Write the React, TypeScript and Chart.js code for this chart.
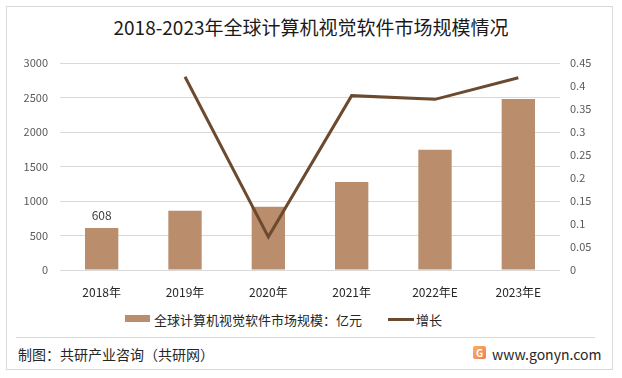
import React, { useEffect, useRef } from "react";
import { Chart, registerables } from "chart.js";

Chart.register(...registerables);

const categories = ["2018年", "2019年", "2020年", "2021年", "2022年E", "2023年E"];
const marketSize = [608, 858, 915, 1275, 1743, 2478];
const growth = [null, 0.42, 0.072, 0.379, 0.371, 0.418];
const leftTicks = [0, 3000, 500];
const rightTicks = [0, 0.45, 0.05];

const FONT = '"Noto Sans CJK SC", "Noto Sans", sans-serif';
const BAR_COLOR = "#BA8D6C";
const LINE_COLOR = "#6B4A2F";

const labelPlugin = {
  id: "firstBarLabel",
  afterDatasetsDraw(chart: any) {
    const meta = chart.getDatasetMeta(0);
    const el = meta.data[0];
    if (!el) return;
    const ctx = chart.ctx;
    ctx.save();
    ctx.font = `12px ${FONT}`;
    ctx.fillStyle = "#404040";
    ctx.textAlign = "center";
    ctx.textBaseline = "middle";
    ctx.fillText(String(marketSize[0]), el.x, el.y - 13);
    ctx.restore();
  },
};

export default function App() {
  const ref = useRef<HTMLCanvasElement | null>(null);

  useEffect(() => {
    document.body.style.margin = "0";
    const canvas = ref.current;
    if (!canvas) return;
    const chart = new Chart(canvas, {
      type: "bar",
      data: {
        labels: categories,
        datasets: [
          {
            type: "bar",
            label: "全球计算机视觉软件市场规模：亿元",
            data: marketSize,
            backgroundColor: BAR_COLOR,
            barPercentage: 0.4,
            categoryPercentage: 1,
            yAxisID: "y",
            order: 1,
          },
          {
            type: "line",
            label: "增长",
            data: growth as any,
            borderColor: LINE_COLOR,
            backgroundColor: LINE_COLOR,
            borderWidth: 3,
            pointRadius: 0,
            tension: 0,
            yAxisID: "y1",
            order: 0,
          },
        ],
      },
      options: {
        responsive: false,
        animation: false,
        layout: { padding: { top: 63, left: 0, right: 0, bottom: 0 } },
        plugins: {
          legend: { display: false },
          tooltip: { enabled: false },
          title: { display: false },
        },
        scales: {
          x: {
            grid: { display: false, drawTicks: false },
            border: { display: false },
            ticks: { color: "#262626", font: { family: FONT, size: 12 }, padding: 15, maxRotation: 0 },
            afterFit(scale: any) {
              scale.height = 40;
            },
          },
          y: {
            position: "left",
            min: leftTicks[0],
            max: leftTicks[1],
            ticks: {
              stepSize: leftTicks[2],
              color: "#595959",
              font: { family: FONT, size: 11 },
              padding: 12,
              callback: (v: any) => String(v),
            },
            grid: { color: "#D9D9D9", drawTicks: false },
            border: { display: false },
            afterFit(scale: any) {
              scale.width = 60;
            },
          },
          y1: {
            position: "right",
            min: rightTicks[0],
            max: rightTicks[1],
            ticks: {
              stepSize: rightTicks[2],
              color: "#595959",
              font: { family: FONT, size: 11 },
              padding: 10,
              callback: (v: any) => String(Number(Number(v).toFixed(2))),
            },
            grid: { display: false, drawTicks: false },
            border: { display: false },
            afterFit(scale: any) {
              scale.width = 62;
            },
          },
        },
      },
      plugins: [labelPlugin],
    });
    return () => chart.destroy();
  }, []);

  return (
    <div style={{ position: "absolute", left: 0, top: 0, width: 622, height: 378, background: "#fff", fontFamily: FONT }}>
      <div style={{ position: "absolute", left: 6, top: 6, width: 605, height: 362, border: "1px solid #D9D9D9" }} />
      <div style={{ position: "absolute", left: 0, top: 14, width: 622, textAlign: "center", fontSize: 19, lineHeight: "26px", color: "#1a1a1a" }}>
        2018-2023年全球计算机视觉软件市场规模情况
      </div>
      <canvas ref={ref} width={622} height={310} style={{ position: "absolute", left: 0, top: 0 }} />
      <div style={{ position: "absolute", left: 125, top: 315, width: 25, height: 7, background: BAR_COLOR }} />
      <div style={{ position: "absolute", left: 154, top: 311, fontSize: 13, lineHeight: "18px", color: "#262626", whiteSpace: "nowrap" }}>
        全球计算机视觉软件市场规模：亿元
      </div>
      <div style={{ position: "absolute", left: 388, top: 318, width: 26, height: 3, background: LINE_COLOR }} />
      <div style={{ position: "absolute", left: 416, top: 311, fontSize: 13, lineHeight: "18px", color: "#262626", whiteSpace: "nowrap" }}>
        增长
      </div>
      <div style={{ position: "absolute", left: 16, top: 337, width: 579, height: 1, background: "#D9D9D9" }} />
      <div style={{ position: "absolute", left: 18, top: 345, fontSize: 14, lineHeight: "18px", color: "#262626", whiteSpace: "nowrap" }}>
        制图：共研产业咨询（共研网）
      </div>
      <div
        style={{
          position: "absolute",
          left: 473,
          top: 346,
          width: 13,
          height: 13,
          borderRadius: 2,
          background: "linear-gradient(135deg, #F7B267 0%, #F27D52 100%)",
          color: "#fff",
          fontSize: 10,
          lineHeight: "13px",
          textAlign: "center",
          fontWeight: "bold",
        }}
      >
        G
      </div>
      <div style={{ position: "absolute", left: 492, top: 345, fontSize: 14, lineHeight: "18px", color: "#262626", whiteSpace: "nowrap" }}>
        www.gonyn.com
      </div>
    </div>
  );
}
